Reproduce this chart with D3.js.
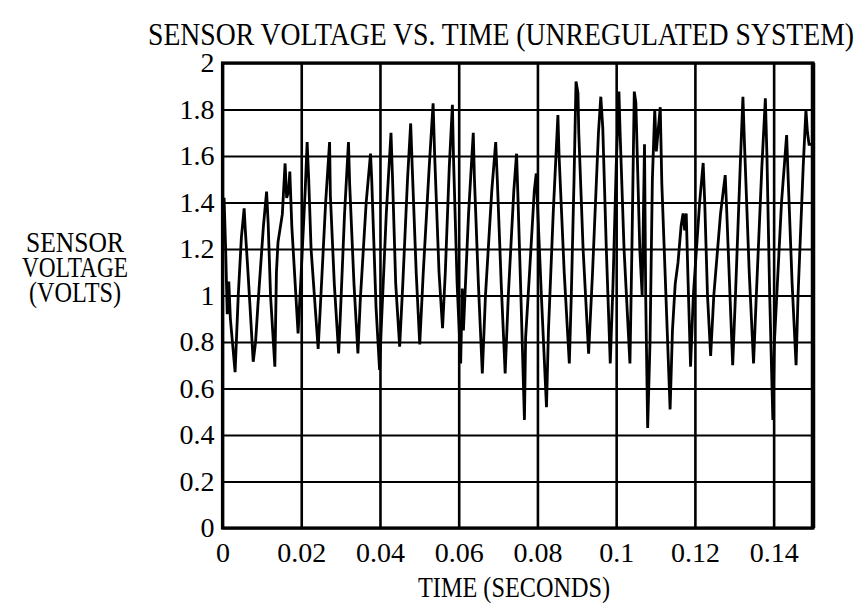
<!DOCTYPE html>
<html>
<head>
<meta charset="utf-8">
<script src="https://cdn.jsdelivr.net/npm/d3@7"></script>
<style>
  body { margin: 0; background: #fff; }
  text { font-family: "Liberation Serif", "Times New Roman", serif; fill: #000; }
</style>
</head>
<body>
<div id="chart"></div>
<script>
// tick labels
const xTicks = [0, 0.02, 0.04, 0.06, 0.08, 0.1, 0.12, 0.14];
const yTicks = [0, 0.2, 0.4, 0.6, 0.8, 1, 1.2, 1.4, 1.6, 1.8, 2];

// sensor trace (seconds, volts)
const time = [
  0.0000, 0.0004, 0.0008, 0.0012, 0.0016, 0.0020, 0.0032, 0.0040, 0.0048, 0.0055,
  0.0058, 0.0064, 0.0070, 0.0078, 0.0084, 0.0090, 0.0104, 0.0112, 0.0116, 0.0122,
  0.0133, 0.0137, 0.0141, 0.0152, 0.0159, 0.0163, 0.0168, 0.0171, 0.0176, 0.0192,
  0.0200, 0.0210, 0.0215, 0.0219, 0.0225, 0.0243, 0.0250, 0.0262, 0.0272, 0.0274,
  0.0284, 0.0295, 0.0299, 0.0310, 0.0320, 0.0323, 0.0334, 0.0344, 0.0350, 0.0365,
  0.0376, 0.0379, 0.0390, 0.0399, 0.0403, 0.0416, 0.0428, 0.0432, 0.0440, 0.0450,
  0.0458, 0.0470, 0.0478, 0.0482, 0.0492, 0.0501, 0.0510, 0.0525, 0.0535, 0.0539,
  0.0550, 0.0559, 0.0566, 0.0576, 0.0584, 0.0587, 0.0596, 0.0605, 0.0609, 0.0612,
  0.0625, 0.0637, 0.0640, 0.0650, 0.0660, 0.0668, 0.0684, 0.0694, 0.0698, 0.0708,
  0.0718, 0.0726, 0.0740, 0.0747, 0.0750, 0.0758, 0.0767, 0.0770, 0.0780, 0.0792,
  0.0797, 0.0800, 0.0810, 0.0823, 0.0828, 0.0840, 0.0852, 0.0855, 0.0868, 0.0881,
  0.0886, 0.0893, 0.0898, 0.0903, 0.0905, 0.0916, 0.0930, 0.0940, 0.0955, 0.0961,
  0.0966, 0.0975, 0.0985, 0.0992, 0.1000, 0.1007, 0.1010, 0.1020, 0.1035, 0.1040,
  0.1046, 0.1050, 0.1060, 0.1066, 0.1072, 0.1075, 0.1080, 0.1086, 0.1092, 0.1098,
  0.1102, 0.1112, 0.1116, 0.1137, 0.1143, 0.1150, 0.1157, 0.1165, 0.1170, 0.1174,
  0.1178, 0.1182, 0.1189, 0.1196, 0.1212, 0.1221, 0.1225, 0.1232, 0.1240, 0.1248,
  0.1265, 0.1277, 0.1280, 0.1288, 0.1296, 0.1303, 0.1315, 0.1322, 0.1326, 0.1338,
  0.1349, 0.1356, 0.1370, 0.1379, 0.1383, 0.1390, 0.1398, 0.1402, 0.1420, 0.1433,
  0.1437, 0.1447, 0.1457, 0.1462, 0.1475, 0.1482, 0.1486, 0.1490, 0.1500
];
const volts = [
  1.40, 1.42, 1.20, 0.92, 1.06, 0.90, 0.67, 1.00, 1.25, 1.375,
  1.28, 1.12, 0.95, 0.715, 0.80, 0.96, 1.30, 1.447, 1.31, 1.00,
  0.694, 1.10, 1.23, 1.35, 1.568, 1.42, 1.45, 1.533, 1.30, 0.837,
  1.10, 1.45, 1.66, 1.50, 1.20, 0.77, 1.00, 1.40, 1.66, 1.43,
  1.05, 0.751, 0.90, 1.35, 1.66, 1.48, 1.05, 0.751, 0.98, 1.40,
  1.61, 1.50, 0.95, 0.68, 0.85, 1.35, 1.70, 1.50, 1.05, 0.78,
  1.05, 1.50, 1.74, 1.55, 1.10, 0.79, 1.10, 1.55, 1.827, 1.60,
  1.10, 0.859, 1.10, 1.55, 1.82, 1.58, 1.05, 0.708, 1.03, 0.85,
  1.35, 1.70, 1.50, 1.05, 0.665, 1.00, 1.45, 1.66, 1.50, 1.05,
  0.665, 1.00, 1.45, 1.61, 1.45, 1.00, 0.465, 0.82, 1.10, 1.45,
  1.525, 1.40, 1.00, 0.52, 0.85, 1.35, 1.776, 1.60, 1.10, 0.708,
  1.00, 1.50, 1.92, 1.87, 1.70, 1.20, 0.75, 1.10, 1.70, 1.855,
  1.72, 1.20, 0.708, 1.05, 1.55, 1.877, 1.70, 1.20, 0.708, 1.20,
  1.877, 1.83, 1.20, 1.00, 1.65, 1.00, 0.43, 0.80, 1.50, 1.80,
  1.62, 1.81, 1.48, 0.51, 0.85, 1.05, 1.14, 1.30, 1.353, 1.28,
  1.353, 1.10, 0.694, 1.00, 1.40, 1.57, 1.40, 1.00, 0.74, 1.00,
  1.35, 1.518, 1.40, 1.05, 0.70, 1.00, 1.55, 1.855, 1.65, 1.10,
  0.708, 1.00, 1.55, 1.848, 1.60, 1.00, 0.465, 0.80, 1.40, 1.69,
  1.50, 1.05, 0.70, 1.00, 1.55, 1.798, 1.70, 1.65, 1.65
];

const width = 858, height = 612;
const margin = {top: 63, right: 45, bottom: 84, left: 222.5};
const innerWidth = width - margin.left - margin.right;
const innerHeight = height - margin.top - margin.bottom;

const svg = d3.select("#chart").append("svg")
    .attr("width", width)
    .attr("height", height);

const x = d3.scaleLinear().domain([0, 0.15]).range([0, innerWidth]);
const y = d3.scaleLinear().domain([0, 2]).range([innerHeight, 0]);

const g = svg.append("g")
    .attr("transform", `translate(${margin.left},${margin.top})`);

// vertical grid + x labels
const xAxis = g.append("g")
    .attr("transform", `translate(0,${innerHeight})`)
    .call(d3.axisBottom(x).tickValues(xTicks).tickSize(-innerHeight).tickFormat(d => String(d)));
xAxis.select(".domain").remove();
xAxis.selectAll("line").attr("stroke", "#000").attr("stroke-width", 2.6);
xAxis.selectAll("text")
    .attr("y", 34).attr("dy", "0")
    .style("font-size", "28px");

// horizontal grid + y labels
const yAxis = g.append("g")
    .call(d3.axisLeft(y).tickValues(yTicks).tickSize(-innerWidth).tickFormat(d => String(d)));
yAxis.select(".domain").remove();
yAxis.selectAll("line").attr("stroke", "#000").attr("stroke-width", 2);
yAxis.selectAll("text")
    .attr("x", -8)
    .style("font-size", "28px");

// frame
g.append("rect")
    .attr("width", innerWidth)
    .attr("height", innerHeight)
    .attr("fill", "none")
    .attr("stroke", "#000")
    .attr("stroke-width", 3.2);
g.append("line")
    .attr("x1", innerWidth).attr("x2", innerWidth)
    .attr("y1", 0).attr("y2", innerHeight)
    .attr("stroke", "#000").attr("stroke-width", 4.5);

// trace
const line = d3.line()
    .x((d, i) => x(time[i]))
    .y(d => y(d));
g.append("path")
    .datum(volts)
    .attr("fill", "none")
    .attr("stroke", "#000")
    .attr("stroke-width", 2.8)
    .attr("stroke-linejoin", "miter")
    .attr("d", line);

// titles
svg.append("text")
    .attr("x", 148).attr("y", 45)
    .attr("textLength", 706)
    .attr("lengthAdjust", "spacingAndGlyphs")
    .style("font-size", "32px")
    .text("SENSOR VOLTAGE VS. TIME  (UNREGULATED SYSTEM)");

svg.append("text")
    .attr("x", 418).attr("y", 597)
    .attr("textLength", 192)
    .attr("lengthAdjust", "spacingAndGlyphs")
    .style("font-size", "29px")
    .text("TIME (SECONDS)");

const yTitle = ["SENSOR", "VOLTAGE", "(VOLTS)"];
const yTitleWidth = [98, 106, 92];
svg.append("g").selectAll("text")
    .data(yTitle)
    .enter()
    .append("text")
    .attr("x", (d, i) => 75 - yTitleWidth[i] / 2)
    .attr("y", (d, i) => 252 + i * 25)
    .attr("textLength", (d, i) => yTitleWidth[i])
    .attr("lengthAdjust", "spacingAndGlyphs")
    .style("font-size", "29px")
    .text(d => d);
</script>
</body>
</html>
